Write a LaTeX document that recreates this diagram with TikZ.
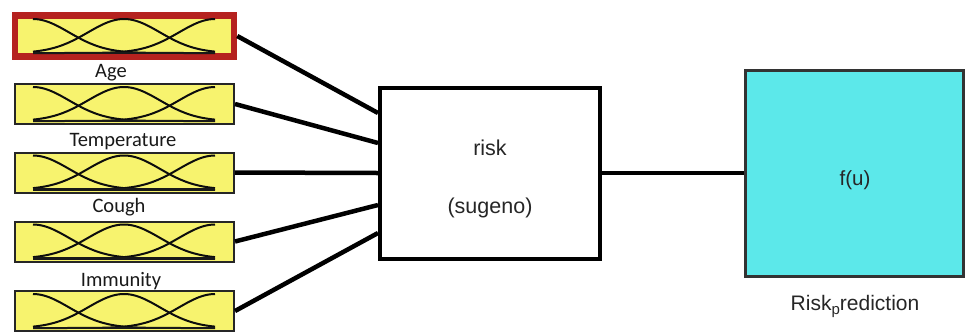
\documentclass[tikz,border=0pt]{standalone}
\usepackage{fontspec}
\setmainfont{Liberation Sans}
\newfontfamily\calib{Carlito}
\definecolor{mfyellow}{HTML}{F7F36E}
\definecolor{outcyan}{HTML}{5CE8EA}
\definecolor{selred}{HTML}{B5221F}
\begin{document}
\begin{tikzpicture}[x=1pt,y=-1pt,
  inbox/.style={draw=black!85, line width=2pt, fill=mfyellow, minimum width=219pt, minimum height=40pt, inner sep=0pt},
  selbox/.style={inbox, draw=selred, line width=6.5pt, minimum height=41pt},
  midbox/.style={draw=black, line width=4pt, fill=white, minimum width=220pt, minimum height=171pt, inner sep=0pt},
  outbox/.style={draw=black!80, line width=3pt, fill=outcyan, minimum width=218pt, minimum height=206pt, inner sep=0pt},
  lab/.style={font=\calib\fontsize{20.5}{20.5}\selectfont, inner sep=0pt, anchor=base, text=black!90},
  midtxt/.style={font=\fontsize{21.5}{21.5}\selectfont, inner sep=0pt, anchor=base, text=black!85},
  conn/.style={line width=4.5pt, black},
  mfcurve/.style={line width=2pt, black!95}
]
\useasboundingbox (0,0) rectangle (967,333);
% input boxes
\node[selbox] (in1) at (124.5,36) {};
\node[inbox] (in2) at (124.5,104) {};
\node[inbox] (in3) at (124.5,172.5) {};
\node[inbox] (in4) at (124.5,241.5) {};
\node[inbox] (in5) at (124.5,311) {};
% membership curves
\foreach \cy in {36,104,172.5,241.5,311}{
  \foreach \c in {33,124,215}{
    \draw[mfcurve] plot[domain=33:215, samples=70, smooth] (\x, {\cy+17-34*exp(0-0.5*pow((\x-\c)/36,2))});
  }
  \draw[line width=2.5pt, black!90] (33,\cy+17) -- (215,\cy+17);
}
% labels
\node[lab] (lage) at (111,77) {Age};
\node[lab] (ltemp) at (123,146) {Temperature};
\node[lab] (lcough) at (119,212) {Cough};
\node[lab] (limm) at (121,286) {Immunity};
% middle box
\node[midbox] (mid) at (490,173) {};
\node[midtxt] (risk) at (490,155) {risk};
\node[midtxt] (sug) at (490,213) {(sugeno)};
% output box
\node[outbox] (out) at (854.5,173.5) {};
\node[midtxt, font=\fontsize{20.5}{20.5}\selectfont] (fu) at (855,185) {f(u)};
\node[midtxt, font=\fontsize{21}{21}\selectfont] (rp) at (855,310) {Risk\raisebox{-0.45ex}{\fontsize{15}{15}\selectfont p}rediction};
% connectors
\coordinate (m1) at ([yshift=60pt]mid.west);
\coordinate (m2) at ([yshift=30pt]mid.west);
\coordinate (m3) at (mid.west);
\coordinate (m4) at ([yshift=-32pt]mid.west);
\coordinate (m5) at ([yshift=-60pt]mid.west);
\draw[conn] (in1.east) -- (m1);
\draw[conn] (in2.east) -- (m2);
\draw[conn] (in3.east) -- (m3);
\draw[conn] (in4.east) -- (m4);
\draw[conn] (in5.east) -- (m5);
\draw[conn] (mid.east) -- (out.west |- mid.east);
\end{tikzpicture}
\end{document}
